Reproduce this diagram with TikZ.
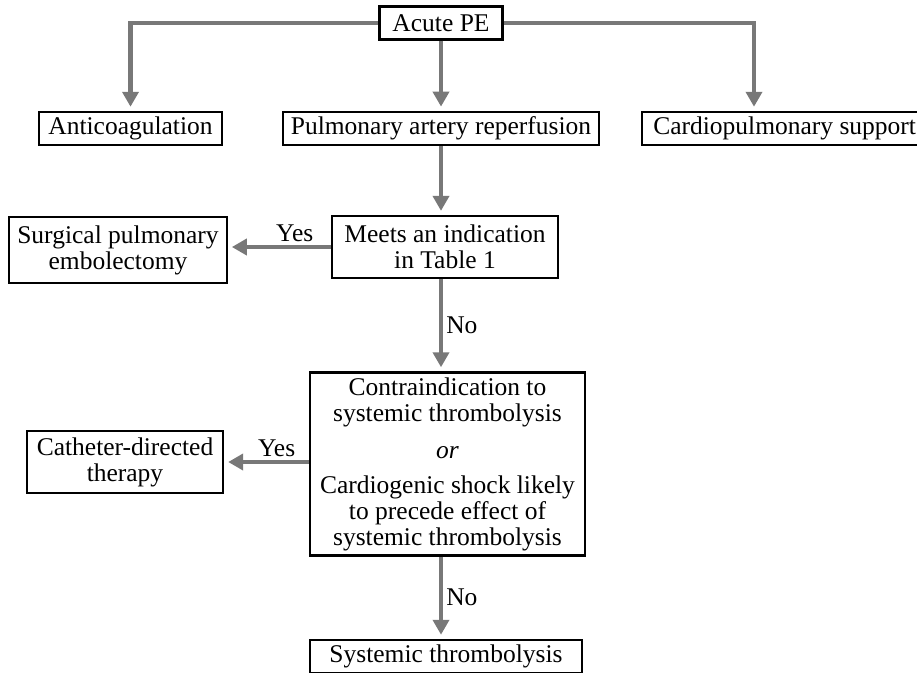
\documentclass[tikz,border=0pt]{standalone}
\usepackage{fontspec}
\setmainfont{Liberation Serif}
\usepackage{tikz}
\usetikzlibrary{arrows.meta}
\definecolor{arrowgray}{rgb}{0.47, 0.47, 0.47}

\begin{document}
\begin{tikzpicture}[x=1pt, y=-1pt,
	box/.style={draw, line width=2.3pt, inner xsep=8pt, inner ysep=5pt, align=center, font=\fontsize{25.5}{26}\selectfont},
	flow/.style={arrowgray, line width=4.5pt, shorten >=4pt, -{Triangle[length=15pt, width=16pt]}},
	tag/.style={text=black, font=\fontsize{25.5}{26}\selectfont, inner sep=3pt}]
	\def\spine{441}
	\def\rowtwo{128.5}
	\def\boxh{33pt}

	\path[use as bounding box, clip] (0,0) rectangle (917,672);

	\node[box, minimum width=123pt, minimum height=\boxh] (acute) at (\spine,23) {Acute PE};

	\node[box, minimum width=183pt, minimum height=\boxh] (anticoag) at (130.5,\rowtwo) {Anticoagulation};
	\node[box, minimum width=312pt, minimum height=\boxh] (reperf) at (\spine,\rowtwo) {Pulmonary artery reperfusion};
	\node[box, minimum width=285pt, minimum height=\boxh, anchor=west] (support) at (641,\rowtwo) {Cardiopulmonary support};
	\coordinate (supporttop) at ([xshift=113pt]support.north west);

	\node[box, minimum width=226pt, minimum height=62pt] (meets) at (445,247) {Meets an indication\\ in Table 1};
	\node[box, minimum width=210pt, minimum height=66pt] (surgery) at (118,250) {Surgical pulmonary\\ embolectomy};

	\node[box, minimum width=275pt, minimum height=182pt] (contra) at (447.5,464)
		{Contraindication to\\ systemic thrombolysis\\[11pt] \textit{or}\\[9pt] Cardiogenic shock likely\\ to precede effect of\\ systemic thrombolysis};
	\node[box, minimum width=196pt, minimum height=62pt] (catheter) at (125,462) {Catheter-directed\\ therapy};

	\node[box, minimum width=272pt, minimum height=\boxh] (lysis) at (446,656.5) {Systemic thrombolysis};

	\draw[flow] (acute.west) -| (anticoag.north);
	\draw[flow] (acute.south) -- (reperf.north);
	\draw[flow] (acute.east) -| (supporttop);

	\draw[flow] (reperf.south) -- (reperf.south |- meets.north);
	\draw[flow] (meets.west) -- (meets.west -| surgery.east) node[tag, above, pos=0.35] {Yes};
	\draw[flow] (meets.south -| reperf) -- (contra.north -| reperf) node[tag, right, midway] {No};
	\draw[flow] (catheter.east -| contra.west) -- (catheter.east) node[tag, above, pos=0.38] {Yes};
	\draw[flow] (contra.south -| reperf) -- (lysis.north -| reperf) node[tag, right, midway] {No};
\end{tikzpicture}
\end{document}
